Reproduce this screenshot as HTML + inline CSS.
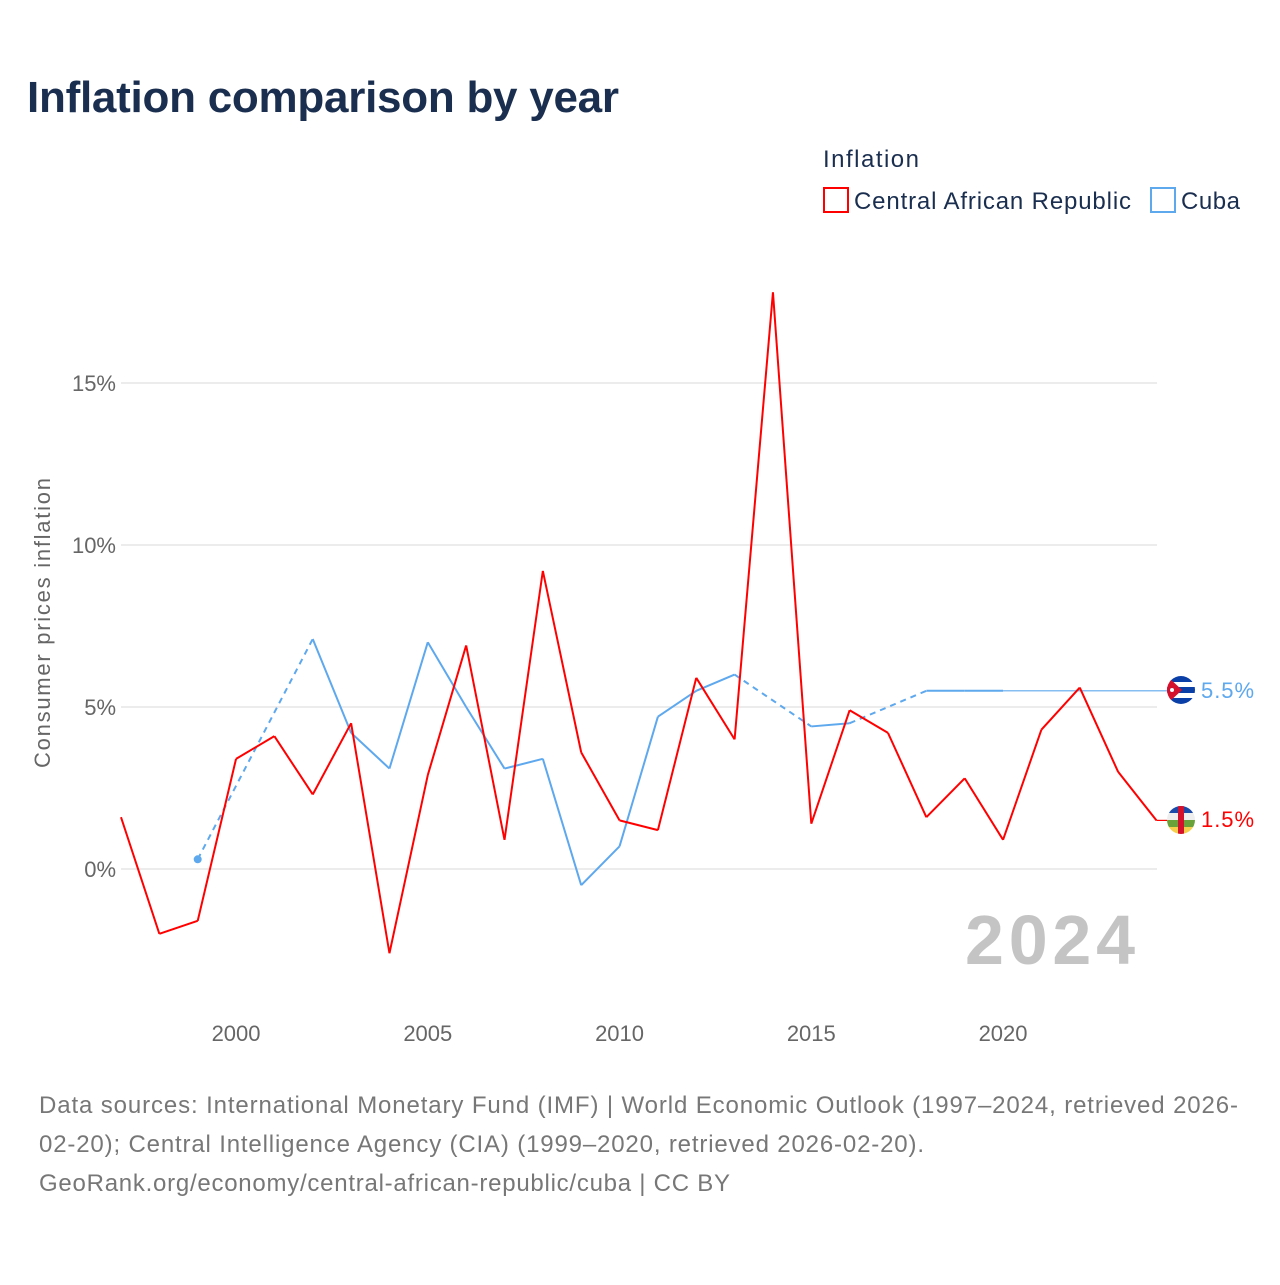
<!DOCTYPE html>
<html><head><meta charset="utf-8"><style>
body{margin:0;background:#fff;font-family:"Liberation Sans",sans-serif;}
svg text{font-family:"Liberation Sans",sans-serif;}
</style></head><body>
<svg width="1280" height="1280" xmlns="http://www.w3.org/2000/svg" id="chart">
<defs>
<clipPath id="c1"><circle cx="1181" cy="690" r="14"/></clipPath>
<clipPath id="c2"><circle cx="1181" cy="820" r="14"/></clipPath>
</defs>
<text x="27" y="112" font-size="44" font-weight="bold" fill="#1a2e4f" textLength="592">Inflation comparison by year</text>
<text x="823" y="167" font-size="24" fill="#1a2e4f" textLength="96">Inflation</text>
<g><rect x="824" y="188" width="24" height="24" fill="none" stroke="#ff0000" stroke-width="2"/><text x="854" y="209" font-size="24" fill="#1a2e4f" textLength="277">Central African Republic</text></g>
<g><rect x="1151" y="188" width="24" height="24" fill="none" stroke="#5ea8ee" stroke-width="2"/><text x="1181" y="209" font-size="24" fill="#1a2e4f" textLength="59">Cuba</text></g>
<g id="grid"></g><g id="xt"></g><g id="series"></g>
<text transform="translate(50,623) rotate(-90)" text-anchor="middle" font-size="22" fill="#666" textLength="290">Consumer prices inflation</text>
<text x="965" y="964" font-size="70" font-weight="bold" fill="#c4c4c4" textLength="170">2024</text>
<g clip-path="url(#c1)">
<rect x="1167" y="676" width="28" height="28" fill="#fff"/><rect x="1167" y="676" width="28" height="6" fill="#0a3fa8"/><rect x="1167" y="687" width="28" height="6" fill="#0a3fa8"/><rect x="1167" y="698" width="28" height="6" fill="#0a3fa8"/><polygon points="1167,676 1182,690 1167,704" fill="#d4102c"/><circle cx="1172" cy="690" r="2" fill="#fff"/></g>
<g clip-path="url(#c2)">
<rect x="1167" y="806" width="28" height="7" fill="#1c4aa8"/><rect x="1167" y="813" width="28" height="7" fill="#eee"/><rect x="1167" y="820" width="28" height="7" fill="#6aa23a"/><rect x="1167" y="827" width="28" height="7" fill="#f6d04d"/><rect x="1178" y="806" width="6" height="28" fill="#d4102c"/></g>
<text x="1201" y="698" font-size="22" fill="#5ea8ee" textLength="53">5.5%</text>
<text x="1201" y="827" font-size="22" fill="#ff0000" textLength="53">1.5%</text>
<g font-size="24" fill="#777">
<text x="39" y="1113" textLength="1199">Data sources: International Monetary Fund (IMF) | World Economic Outlook (1997–2024, retrieved 2026-</text>
<text x="39" y="1152" textLength="885">02-20); Central Intelligence Agency (CIA) (1999–2020, retrieved 2026-02-20).</text>
<text x="39" y="1191" textLength="691">GeoRank.org/economy/central-african-republic/cuba | CC BY</text>
</g>
</svg>
<script>
const years=[1997,1998,1999,2000,2001,2002,2003,2004,2005,2006,2007,2008,2009,2010,2011,2012,2013,2014,2015,2016,2017,2018,2019,2020,2021,2022,2023,2024];
const carValues=[1.6,-2.0,-1.6,3.4,4.1,2.3,4.5,-2.6,2.9,6.9,0.9,9.2,3.6,1.5,1.2,5.9,4.0,17.8,1.4,4.9,4.2,1.6,2.8,0.9,4.3,5.6,3.0,1.5];
const cubaValues=[null,null,0.3,null,null,7.1,4.2,3.1,7.0,5.0,3.1,3.4,-0.5,0.7,4.7,5.5,6.0,null,4.4,4.5,null,5.5,5.5,5.5,null,null,null,null];
const yTicks=[0,5,10,15];
const xTicks=[2000,2005,2010,2015,2020];
const X=y=>121+(y-1997)*38.35, Y=v=>869-v*32.4;
const NS="http://www.w3.org/2000/svg";
function mk(t,a,p){const e=document.createElementNS(NS,t);for(const k in a)e.setAttribute(k,a[k]);p.appendChild(e);return e;}
const grid=document.getElementById('grid'),xt=document.getElementById('xt'),S=document.getElementById('series');
yTicks.forEach(v=>{
 const l=mk('line',{x1:121,x2:1157,y1:Y(v),y2:Y(v),stroke:'#e6e6e6','stroke-width':1.5},grid);
 
 
 const t=mk('text',{x:116,y:Y(v)+8,'text-anchor':'end','font-size':22,fill:'#666'},grid);t.textContent=v+'%';
 
 
});
xTicks.forEach(y=>{
 const t=mk('text',{x:X(y),y:1041,'text-anchor':'middle','font-size':22,fill:'#666'},xt);t.textContent=y;
 
 
});
function draw(vals,color,name){
 const pts=[];vals.forEach((v,i)=>{if(v!==null)pts.push([years[i],v,i]);});
 for(let k=1;k<pts.length;k++){
  const a=pts[k-1],b=pts[k];const gap=b[2]-a[2]>1;
  const l=mk('line',{x1:X(a[0]),y1:Y(a[1]),x2:X(b[0]),y2:Y(b[1]),stroke:color,'stroke-width':2,'stroke-dasharray':gap?'6,5':'none'},S);
  
  
 }
 return pts;
}
const cp=draw(cubaValues,'#5ea8ee','cuba-line');
const first=cp[0];
const d=mk('circle',{cx:X(first[0]),cy:Y(first[1]),r:4,fill:'#5ea8ee'},S);


const last=cp[cp.length-1];
const ext=mk('line',{x1:X(last[0]),y1:Y(last[1]),x2:1167,y2:Y(last[1]),stroke:'#5ea8ee','stroke-width':1.2},S);


const rp=draw(carValues,'#ff0000','car-line');
const rl=rp[rp.length-1];
const ext2=mk('line',{x1:X(rl[0]),y1:Y(rl[1]),x2:1167,y2:Y(rl[1]),stroke:'#ff0000','stroke-width':1.2},S);


</script>
</body></html>
